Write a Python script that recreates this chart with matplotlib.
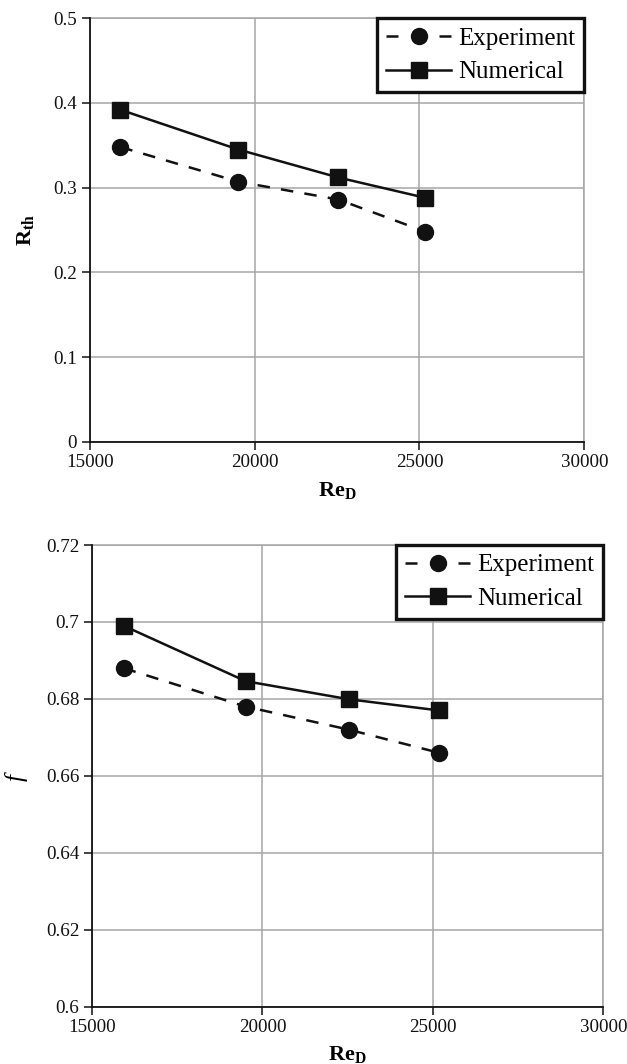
import matplotlib
matplotlib.use("Agg")
import matplotlib.pyplot as plt

plt.rcParams['font.family'] = ['Liberation Serif', 'DejaVu Serif']
plt.rcParams['mathtext.fontset'] = 'custom'
plt.rcParams['mathtext.rm'] = 'Liberation Serif'
plt.rcParams['mathtext.it'] = 'Liberation Serif:italic'
plt.rcParams['mathtext.bf'] = 'Liberation Serif:bold'

# data
re_d = [15930, 19510, 22540, 25180]
rth_experiment = [0.348, 0.307, 0.286, 0.248]
rth_numerical = [0.392, 0.345, 0.312, 0.288]
f_experiment = [0.688, 0.678, 0.672, 0.666]
f_numerical = [0.699, 0.6846, 0.6799, 0.677]

x_ticks = [15000, 20000, 25000, 30000]
rth_ticks = [0, 0.1, 0.2, 0.3, 0.4, 0.5]
rth_tick_labels = ['0', '0.1', '0.2', '0.3', '0.4', '0.5']
f_ticks = [0.6, 0.62, 0.64, 0.66, 0.68, 0.7, 0.72]
f_tick_labels = ['0.6', '0.62', '0.64', '0.66', '0.68', '0.7', '0.72']

W, H = 627, 1064
LW = 1.8
fig = plt.figure(figsize=(W / 100, H / 100), dpi=100)


def px_axes(left, top, right, bottom):
    return fig.add_axes([left / W, 1 - bottom / H, (right - left) / W, (bottom - top) / H])


def style_axes(ax, yticks, ylabels, ylim):
    ax.set_xlim(15000, 30000)
    ax.set_ylim(*ylim)
    ax.set_xticks(x_ticks)
    ax.set_xticklabels([str(t) for t in x_ticks])
    ax.set_yticks(yticks)
    ax.set_yticklabels(ylabels)
    ax.grid(True, color='#a6a6a6', linewidth=1.1)
    ax.set_axisbelow(True)
    # top/right edges look like plain gridlines
    for s in ['top', 'right']:
        ax.spines[s].set_color('#a6a6a6')
        ax.spines[s].set_linewidth(1.1)
    for s in ['left', 'bottom']:
        ax.spines[s].set_linewidth(1.3)
        ax.spines[s].set_color('#111111')
        ax.spines[s].set_zorder(3)
    ax.tick_params(direction='out', length=6, width=1.1, labelsize=13.7,
                   colors='#111111', pad=3)


def draw_series(ax, exp, num):
    ax.plot(re_d, exp, color='#111111', linestyle=(0, (5, 4.5)), linewidth=LW,
            marker='o', markersize=11.5, label='Experiment', clip_on=False, zorder=4)
    ax.plot(re_d, num, color='#111111', linestyle='-', linewidth=LW,
            marker='s', markersize=12, label='Numerical', clip_on=False, zorder=4)
    leg = ax.legend(loc='upper right', borderaxespad=0, fontsize=18,
                    frameon=True, fancybox=False, handlelength=2.6,
                    handletextpad=0.3, labelspacing=0.45, borderpad=0.35,
                    framealpha=1)
    leg.get_frame().set_edgecolor('#111111')
    leg.get_frame().set_linewidth(2.4)
    leg.set_zorder(5)
    # symmetric "- o -" look for the dashed handle
    span = 2.6 * 18 / LW
    dash = 4.8
    leg.get_lines()[0].set_dashes([dash, span - 2 * dash, dash, 2])


ax1 = px_axes(89.7, 18.3, 584.3, 441.7)
style_axes(ax1, rth_ticks, rth_tick_labels, (0, 0.5))
draw_series(ax1, rth_experiment, rth_numerical)
ax1.set_ylabel(r'$\mathbf{R_{th}}$', fontsize=16, va='center')
ax1.yaxis.set_label_coords(-0.13, 0.5)
ax1.set_xlabel(r'$\mathbf{Re_D}$', fontsize=16)
ax1.xaxis.set_label_coords(0.5, -0.09)

ax2 = px_axes(92, 545, 603.3, 1006.7)
style_axes(ax2, f_ticks, f_tick_labels, (0.6, 0.72))
draw_series(ax2, f_experiment, f_numerical)
ax2.set_ylabel(r'$f$', fontsize=18, va='center')
ax2.yaxis.set_label_coords(-0.147, 0.5)
ax2.set_xlabel(r'$\mathbf{Re_D}$', fontsize=16)
ax2.xaxis.set_label_coords(0.5, -0.08)

fig.savefig('out.png', dpi=100)
